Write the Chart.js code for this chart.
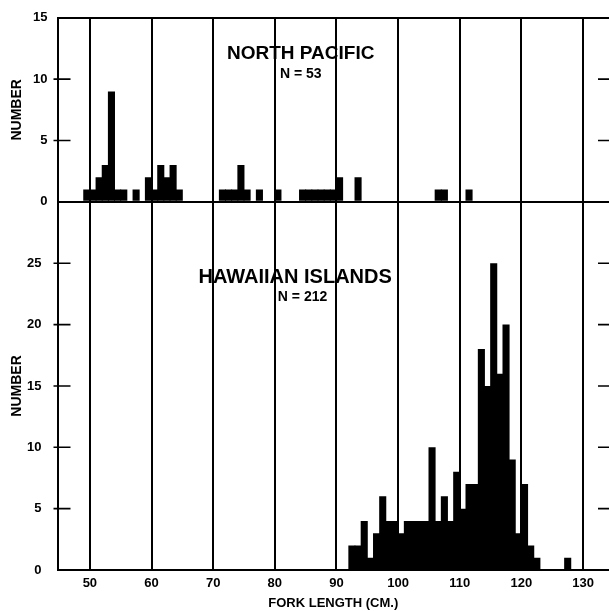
<!DOCTYPE html>
<html>
<head>
<meta charset="utf-8">
<script src="https://cdn.jsdelivr.net/npm/chart.js@4.4.0/dist/chart.umd.min.js"></script>
<style>
  html, body { margin: 0; padding: 0; background: #fff; overflow: hidden; }
</style>
</head>
<body>
<canvas id="chartFork" width="609" height="611"></canvas>
<script>
// Length classes (cm, class start) and counts
const northBins = [49, 50, 51, 52, 53, 54, 55, 57, 59, 60, 61, 62, 63, 64, 71, 72, 73, 74, 75, 77, 80,
  84, 85, 86, 87, 88, 89, 90, 93, 106, 107, 111];
const northCounts = [1, 1, 2, 3, 9, 1, 1, 1, 2, 1, 3, 2, 3, 1, 1, 1, 1, 3, 1, 1, 1,
  1, 1, 1, 1, 1, 1, 2, 2, 1, 1, 1];

const hawaiiBins = [92, 93, 94, 95, 96, 97, 98, 99, 100, 101, 102, 103, 104, 105, 106, 107, 108, 109, 110,
  111, 112, 113, 114, 115, 116, 117, 118, 119, 120, 121, 122, 127];
const hawaiiCounts = [2, 2, 4, 1, 3, 6, 4, 4, 3, 4, 4, 4, 4, 10, 4, 6, 4, 8, 5,
  7, 7, 18, 15, 25, 16, 20, 9, 3, 7, 2, 1, 1];

const xTicks = [50, 60, 70, 80, 90, 100, 110, 120, 130];
const northTicks = [0, 5, 10, 15];
const hawaiiTicks = [0, 5, 10, 15, 20, 25];

const FONT = "'Liberation Sans', Arial, sans-serif";

// petits traits de graduation dessinés vers l'intérieur + textes des panneaux
const panelDecor = {
  id: 'panelDecor',
  afterDraw(chart) {
    const { ctx, chartArea, scales } = chart;
    ctx.save();
    ctx.strokeStyle = '#000';
    ctx.lineWidth = 1.6;
    ['yNorth', 'yHaw'].forEach(id => {
      const s = scales[id];
      s.ticks.forEach(t => {
        if (t.value === 0 || t.value === s.max) return;
        const y = s.getPixelForValue(t.value);
        ctx.beginPath();
        ctx.moveTo(chartArea.left - 4, y);
        ctx.lineTo(chartArea.left + 13, y);
        ctx.moveTo(chartArea.right, y);
        ctx.lineTo(chartArea.right - 11, y);
        ctx.stroke();
      });
    });

    ctx.fillStyle = '#000';
    ctx.textAlign = 'center';
    ctx.textBaseline = 'middle';
    const x = scales.x;
    ctx.font = 'bold 19px ' + FONT;
    ctx.fillText('NORTH PACIFIC', x.getPixelForValue(84.2), scales.yNorth.getPixelForValue(12.1));
    ctx.font = 'bold 14px ' + FONT;
    ctx.fillText('N = 53', x.getPixelForValue(84.2), scales.yNorth.getPixelForValue(10.4));
    ctx.font = 'bold 20px ' + FONT;
    ctx.fillText('HAWAIIAN ISLANDS', x.getPixelForValue(83.3), scales.yHaw.getPixelForValue(23.8));
    ctx.font = 'bold 14px ' + FONT;
    ctx.fillText('N = 212', x.getPixelForValue(84.5), scales.yHaw.getPixelForValue(22.2));
    ctx.restore();
  }
};

const tickFont = { family: FONT, weight: 'bold', size: 13 };

const ctxFork = document.getElementById('chartFork').getContext('2d');

const chartFork = new Chart(ctxFork, {
  type: 'bar',
  data: {
    datasets: [{
      label: 'North Pacific',
      data: northBins.map((b, i) => ({ x: b + 0.5, y: northCounts[i] })),
      yAxisID: 'yNorth',
      backgroundColor: '#000',
      borderWidth: 0,
      grouped: false,
      barPercentage: 1.15,
      categoryPercentage: 1
    }, {
      label: 'Hawaiian Islands',
      data: hawaiiBins.map((b, i) => ({ x: b + 0.5, y: hawaiiCounts[i] })),
      yAxisID: 'yHaw',
      backgroundColor: '#000',
      borderWidth: 0,
      grouped: false,
      barPercentage: 1.15,
      categoryPercentage: 1
    }]
  },
  options: {
    responsive: false,
    animation: false,
    devicePixelRatio: 1,
    layout: { padding: { top: 16, right: 0, bottom: 0, left: 0 } },
    plugins: {
      legend: { display: false },
      tooltip: { enabled: false }
    },
    scales: {
      x: {
        type: 'linear',
        min: 44.75,
        max: 134.2,
        offset: false,
        afterBuildTicks: s => { s.ticks = xTicks.map(v => ({ value: v })); },
        afterFit: s => { s.height = 41; },
        grid: { color: '#000', lineWidth: 2, drawTicks: false, offset: false },
        border: { color: '#000', width: 2 },
        ticks: { color: '#000', font: tickFont, padding: 6, maxRotation: 0, autoSkip: false },
        title: {
          display: true,
          text: 'FORK LENGTH (CM.)',
          color: '#000',
          font: { family: FONT, weight: 'bold', size: 13 },
          padding: { top: 0, bottom: 0 }
        }
      },
      yHaw: {
        type: 'linear',
        position: 'left',
        stack: 'fork',
        stackWeight: 30,
        min: 0,
        max: 30,
        afterBuildTicks: s => { s.ticks = hawaiiTicks.map(v => ({ value: v })); },
        afterFit: s => { s.width = 57.5; },
        grid: { display: false },
        border: { color: '#000', width: 2 },
        ticks: { color: '#000', font: tickFont, padding: 8 },
        title: {
          display: true,
          text: 'NUMBER',
          color: '#000',
          font: { family: FONT, weight: 'bold', size: 14 },
          padding: { top: 9, bottom: 0 }
        }
      },
      yNorth: {
        type: 'linear',
        position: 'left',
        stack: 'fork',
        stackWeight: 15,
        min: 0,
        max: 15,
        afterBuildTicks: s => { s.ticks = northTicks.map(v => ({ value: v })); },
        afterFit: s => { s.width = 57.5; },
        grid: {
          drawTicks: false,
          lineWidth: 2,
          color: c => (c.tick && (c.tick.value === 0 || c.tick.value === 15)) ? '#000' : 'rgba(0,0,0,0)'
        },
        border: { color: '#000', width: 2 },
        ticks: { color: '#000', font: tickFont, padding: 10 },
        title: {
          display: true,
          text: 'NUMBER',
          color: '#000',
          font: { family: FONT, weight: 'bold', size: 14 },
          padding: { top: 9, bottom: 0 }
        }
      }
    }
  },
  plugins: [panelDecor]
});
</script>
</body>
</html>
